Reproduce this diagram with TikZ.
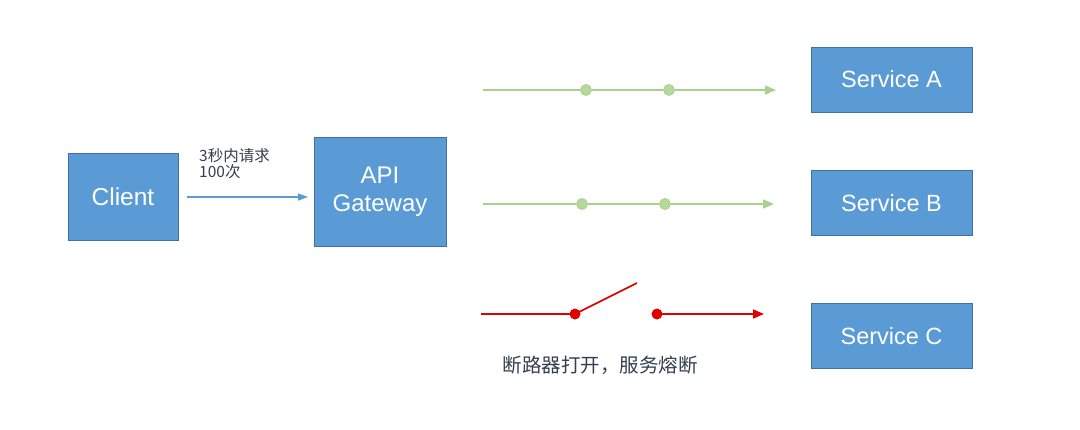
\documentclass[tikz,border=0pt]{standalone}
\usepackage{fontspec}
\setmainfont{Liberation Sans}
\newfontfamily\cjk{Noto Sans CJK SC}
\usetikzlibrary{arrows.meta}
\definecolor{boxblue}{HTML}{5B9BD5}
\definecolor{boxedge}{HTML}{41719C}
\definecolor{okgreen}{HTML}{A9D18E}
\definecolor{okgreendot}{HTML}{B5D89C}
\definecolor{brkred}{HTML}{E00000}
\definecolor{txtgray}{HTML}{333F50}
\tikzset{
  svcbox/.style={draw=boxedge, line width=1pt, fill=boxblue, text=white, inner sep=0pt,
    font=\fontsize{23.5}{27}\selectfont, align=center},
  greenline/.style={draw=okgreen, line width=1.5pt},
  greendot/.style={circle, fill=okgreendot, draw=okgreen, line width=0.8pt, minimum size=11pt, inner sep=0pt},
  redline/.style={draw=brkred, line width=1.6pt},
  reddot/.style={circle, fill=brkred, minimum size=11pt, inner sep=0pt},
  tip/.style={-{Triangle[length=11pt,width=9pt]}},
}
\begin{document}
\begin{tikzpicture}[x=1pt,y=-1pt]
\path[use as bounding box, fill=white] (0,0) rectangle (1080,429);

% boxes
\node[svcbox, minimum width=110pt, minimum height=87pt, font=\fontsize{24.5}{28}\selectfont] (client) at (123,196.5) {Client};
\node[svcbox, minimum width=132pt, minimum height=109pt, font=\fontsize{24}{28}\selectfont] (gw) at (380,191.5) {API\\Gateway};
\node[svcbox, minimum width=161pt, minimum height=65pt] (sa) at (891.5,79.5) {Service A};
\node[svcbox, minimum width=161pt, minimum height=65pt] (sb) at (891.5,203) {Service B};
\node[svcbox, minimum width=161pt, minimum height=65pt] (sc) at (891.5,336) {Service C};

% client -> gateway
\coordinate (cs) at (187,197);
\coordinate (ce) at (308,197);
\draw[draw=boxblue, line width=1.4pt, -{Triangle[length=10pt,width=7pt]}] (cs) -- (ce);
\node[text=txtgray, font=\cjk\fontsize{15.5}{16.5}\selectfont, align=left, anchor=north west, inner sep=0pt] (lbl) at (199,148) {3秒内请求\\100次};

% row A
\coordinate (as) at (483,90);
\coordinate (ae) at (776,90);
\node[greendot] (a1) at (586,90) {};
\node[greendot] (a2) at (669,90) {};
\draw[greenline] (as) -- (a1);
\draw[greenline] (a1) -- (a2);
\draw[greenline, tip] (a2) -- (ae);

% row B
\coordinate (bs) at (483,204);
\coordinate (be) at (774,204);
\node[greendot] (b1) at (582,204) {};
\node[greendot] (b2) at (665,204) {};
\draw[greenline] (bs) -- (b1);
\draw[greenline] (b1) -- (b2);
\draw[greenline, tip] (b2) -- (be);

% row C (open breaker)
\coordinate (cs2) at (481,314);
\coordinate (sw) at (637,283);
\coordinate (ce2) at (764,314);
\node[reddot] (c1) at (575,314) {};
\node[reddot] (c2) at (657,314) {};
\draw[redline] (cs2) -- (c1.center);
\draw[redline] (c1.center) -- (sw);
\draw[redline, tip] (c2.center) -- (ce2);

\node[text=txtgray, font=\cjk\fontsize{19.5}{22}\selectfont, inner sep=0pt] (brk) at (600,365) {断路器打开，服务熔断};
\end{tikzpicture}
\end{document}
